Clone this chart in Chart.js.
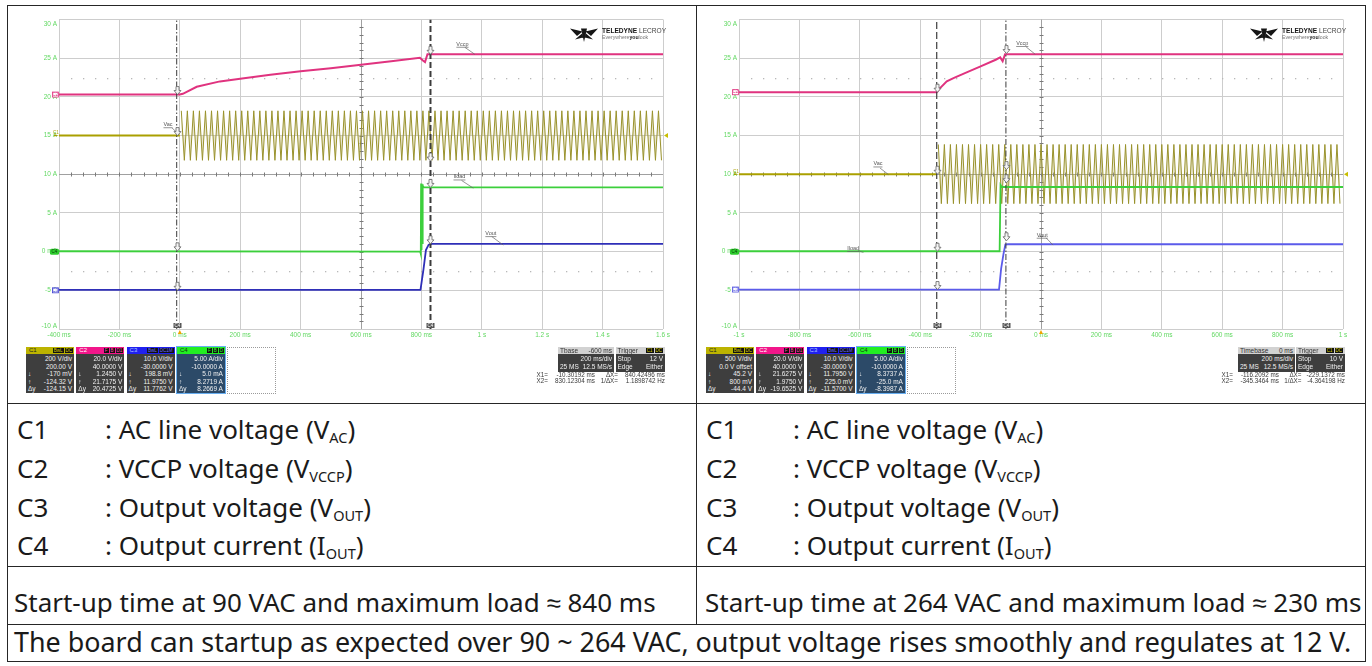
<!DOCTYPE html>
<html><head><meta charset="utf-8"><title>Start-up waveforms</title>
<script src="https://cdn.jsdelivr.net/npm/chart.js@4.4.1/dist/chart.umd.min.js"></script>
<style>
html,body{margin:0;padding:0;background:#fff;}
#page{position:relative;width:1372px;height:666px;overflow:hidden;background:#fff;}
.hl{position:absolute;height:1px;background:#262626;}
.vl{position:absolute;width:1px;background:#262626;}
.txt{position:absolute;font-family:'Noto Sans',sans-serif;font-size:26px;line-height:26px;color:#1a1a1a;white-space:nowrap;}
.txt .sb{font-size:14.5px;position:relative;top:4px;}
canvas.scope{position:absolute;}
.ui{position:absolute;font-family:'Liberation Sans',Arial,sans-serif;font-size:6.5px;white-space:nowrap;}
.chhead{position:absolute;left:0;top:0;right:0;height:7px;line-height:7px;padding-left:3px;font-size:6px;}
.tags{position:absolute;right:1px;top:1px;height:5px;display:flex;gap:1px;}
.tag{background:#111;padding:0 1px;font-size:4.5px;line-height:5px;}
.chbody{position:absolute;left:0;right:0;top:7px;bottom:0;padding-top:1px;}
.ln{height:7.5px;line-height:7.5px;position:relative;text-align:right;padding-right:2px;color:#f0f0f0;}
.sym{position:absolute;left:2px;top:0;}
.tbhead{position:absolute;left:0;right:0;top:0;height:7px;line-height:7px;background:#d2d2d2;color:#333;}
.tbbody{position:absolute;left:0;right:0;top:7px;bottom:0;background:#3e3e3e;color:#f0f0f0;}
.tbl{position:absolute;left:2px;}
.tbr{position:absolute;right:2px;}
</style></head>
<body><div id="page">
<canvas id="scopeL" class="scope" width="687" height="396" style="left:8px;top:6px;width:687px;height:396px"></canvas>
<canvas id="scopeR" class="scope" width="667" height="396" style="left:697px;top:6px;width:667px;height:396px"></canvas>
</div>
<script>
// ================= DATA =================
const xTickLabelsLeft  = ['-400 ms','-200 ms','0 ms','200 ms','400 ms','600 ms','800 ms','1 s','1.2 s','1.4 s','1.6 s'];
const xTickLabelsRight = ['-1 s','-800 ms','-600 ms','-400 ms','-200 ms','0 ms','200 ms','400 ms','600 ms','800 ms','1 s'];
const yTickLabels = ['-10 A','-5 A','0 mA','5 A','10 A','15 A','20 A','25 A','30 A'];

// ---- left scope (90 VAC), time in ms, values in screen units (5 A/div axis) ----
const leftVccpT = [-400, -200, 0, 10, 56, 133, 200, 300, 400, 500, 600, 700, 795, 805, 812, 820, 1600];
const leftVccpV = [20.3, 20.3, 20.3, 20.4, 21.3, 22.0, 22.35, 22.85, 23.3, 23.7, 24.15, 24.6, 25.05, 24.7, 24.5, 25.5, 25.5];
const leftVacFlatT = [-400, 0];
const leftVacFlatV = [15, 15];
const leftVacStartT = 5;
const leftVacHalfPeriod = 10;
const leftVacPeaks = [
18.2,11.8,18.2,11.8,18.2,11.8,18.2,11.8,18.2,11.8,18.2,11.8,18.2,11.8,18.2,11.8,18.2,11.8,18.2,11.8,
18.2,11.8,18.2,11.8,18.2,11.8,18.2,11.8,18.2,11.8,18.2,11.8,18.2,11.8,18.2,11.8,18.2,11.8,18.2,11.8,
18.2,11.8,18.2,11.8,18.2,11.8,18.2,11.8,18.2,11.8,18.2,11.8,18.2,11.8,18.2,11.8,18.2,11.8,18.2,11.8,
18.2,11.8,18.2,11.8,18.2,11.8,18.2,11.8,18.2,11.8,18.2,11.8,18.2,11.8,18.2,11.8,18.2,11.8,18.2,11.8,
18.2,11.8,18.2,11.8,18.2,11.8,18.2,11.8,18.2,11.8,18.2,11.8,18.2,11.8,18.2,11.8,18.2,11.8,18.2,11.8,
18.2,11.8,18.2,11.8,18.2,11.8,18.2,11.8,18.2,11.8,18.2,11.8,18.2,11.8,18.2,11.8,18.2,11.8,18.2,11.8,
18.2,11.8,18.2,11.8,18.2,11.8,18.2,11.8,18.2,11.8,18.2,11.8,18.2,11.8,18.2,11.8,18.2,11.8,18.2,11.8,
18.2,11.8,18.2,11.8,18.2,11.8,18.2,11.8,18.2,11.8,18.2,11.8,18.2,11.8,18.2,11.8,18.2,11.8,18.2,11.8
];
const leftVacCenter = 15;
const leftIloadT = [-400, 796, 798, 799, 800.5, 802, 803.5, 805, 808, 1600];
const leftIloadV = [0.05, 0.0, -0.3, 8.8, 0.2, 8.7, 1.0, 8.5, 8.3, 8.3];
const leftVoutT = [-400, 797, 807, 815, 824, 835, 1600];
const leftVoutV = [-4.95, -4.95, -2.25, 0.2, 0.9, 1.0, 1.0];
const leftCursors = [-10.3, 830.1];

// ---- right scope (264 VAC) ----
const rightVccpT = [-1000, -345, -335, -312, -288, -250, -200, -150, -135, -127, -119, 1000];
const rightVccpV = [20.6, 20.6, 21.1, 22.0, 22.45, 23.1, 23.95, 24.8, 25.1, 24.6, 25.5, 25.5];
const rightVacFlatT = [-1000, -345];
const rightVacFlatV = [10, 10];
const rightVacStartT = -340;
const rightVacHalfPeriod = 10;
const rightVacPeaks = [
13.85,6.2,13.85,6.2,13.85,6.2,13.85,6.2,13.85,6.2,13.85,6.2,13.85,6.2,13.85,6.2,13.85,6.2,13.85,6.2,
13.85,6.2,13.85,6.2,13.85,6.2,13.85,6.2,13.85,6.2,13.85,6.2,13.85,6.2,13.85,6.2,13.85,6.2,13.85,6.2,
13.85,6.2,13.85,6.2,13.85,6.2,13.85,6.2,13.85,6.2,13.85,6.2,13.85,6.2,13.85,6.2,13.85,6.2,13.85,6.2,
13.85,6.2,13.85,6.2,13.85,6.2,13.85,6.2,13.85,6.2,13.85,6.2,13.85,6.2,13.85,6.2,13.85,6.2,13.85,6.2,
13.85,6.2,13.85,6.2,13.85,6.2,13.85,6.2,13.85,6.2,13.85,6.2,13.85,6.2,13.85,6.2,13.85,6.2,13.85,6.2,
13.85,6.2,13.85,6.2,13.85,6.2,13.85,6.2,13.85,6.2,13.85,6.2,13.85,6.2,13.85,6.2,13.85,6.2,13.85,6.2,
13.85,6.2,13.85,6.2,13.85,6.2,13.85,6.2,13.85,6.2,13.85,6.2,13.85,6.2
];
const rightVacCenter = 10;
const rightIloadT = [-1000, -137, -134, -130, 1000];
const rightIloadV = [0.05, 0.05, 8.6, 8.35, 8.35];
const rightVoutT = [-1000, -139, -132, -124, -118, -110, 1000];
const rightVoutV = [-4.9, -4.9, -2.2, -0.25, 0.9, 0.95, 0.95];
const rightCursors = [-116.2, -345.3];

// ---- info panel texts ----
const leftChannelLines = [
 ['200 V/div','200.00 V','-170 mV','-124.32 V','-124.15 V'],
 ['20.0 V/div','40.0000 V','1.2450 V','21.7175 V','20.4725 V'],
 ['10.0 V/div','-30.0000 V','198.8 mV','11.9750 V','11.7762 V'],
 ['5.00 A/div','-10.0000 A','5.0 mA','8.2719 A','8.2669 A']
];
const rightChannelLines = [
 ['500 V/div','0.0 V offset','45.2 V','800 mV','-44.4 V'],
 ['20.0 V/div','40.0000 V','21.6275 V','1.9750 V','-19.6525 V'],
 ['10.0 V/div','-30.0000 V','11.7950 V','225.0 mV','-11.5700 V'],
 ['5.00 A/div','-10.0000 A','8.3737 A','-25.0 mA','-8.3987 A']
];
const channelNames = ['C1','C2','C3','C4'];
const channelTags = [['BwL','DC'],['F','B','D1'],['BwL','DC1M'],['F','B','D']];
const leftTimebase = ['Tbase','-600 ms','200 ms/div','25 MS','12.5 MS/s'];
const rightTimebase = ['Timebase','0 ms','200 ms/div','25 MS','12.5 MS/s'];
const leftTrigger = ['Stop','12 V','Edge','Either'];
const rightTrigger = ['Stop','10 V','Edge','Either'];
const leftReadout = [['X1=','-10.30192 ms','ΔX=','840.42496 ms'],['X2=','830.12304 ms','1/ΔX=','1.1898742 Hz']];
const rightReadout = [['X1=','-116.2092 ms','ΔX=','-229.1372 ms'],['X2=','-345.3464 ms','1/ΔX=','-4.364198 Hz']];

// ---- table texts ----
const noteLabels = ['C1','C2','C3','C4'];
const noteTexts = ['AC line voltage','VCCP voltage','Output voltage','Output current'];
const noteSymbols = ['V','V','V','I'];
const noteSubs = ['AC','VCCP','OUT','OUT'];
const startupLeft = 'Start-up time at 90 VAC and maximum load ≈ 840 ms';
const startupRight = 'Start-up time at 264 VAC and maximum load ≈ 230 ms';
const conclusion = 'The board can startup as expected over 90 ~ 264 VAC, output voltage rises smoothly and regulates at 12 V.';

// ================= LAYOUT / STYLE =================
const page = document.getElementById('page');
function add(cls, css, html){ const d=document.createElement('div'); d.className=cls; d.style.cssText=css; if(html!=null) d.innerHTML=html; page.appendChild(d); return d; }

// table lines
[[7,5,1359],[7,403,1359],[7,566,1359],[7,624,1359],[7,661,1359]].forEach(([x,y,w])=>add('hl',`left:${x}px;top:${y}px;width:${w}px;`));
[[7,5,657],[1365,5,657],[696,5,619]].forEach(([x,y,h])=>add('vl',`left:${x}px;top:${y}px;height:${h}px;`));

const rowCenters = [430, 469, 508, 546];
[[17,105],[706,793]].forEach(([xl,xc])=>{
  noteLabels.forEach((lab,i)=>{
    const top = rowCenters[i]-14;
    add('txt',`left:${xl}px;top:${top}px;`, lab);
    add('txt',`left:${xc}px;top:${top}px;`, `: ${noteTexts[i]} (${noteSymbols[i]}<span class="sb">${noteSubs[i]}</span>)`);
  });
});
add('txt','left:14px;top:589px;', startupLeft);
add('txt','left:705px;top:589px;', startupRight);
add('txt','left:14px;top:629px;font-size:26.9px;', conclusion);

// scope info panels
const headColors = ['#bcb300','#f2168a','#2020f0','#22ee22'];
const headTextColors = ['#222','#fff','#a8c8ff','#143014'];
const tagTextColors = ['#d8d000','#ff4aa8','#6a6aff','#30ff30'];
const syms = ['','','↓','↑','Δy'];
function channelPanels(x0, lines){
  lines.forEach((ls,i)=>{
    const x = x0 + i*50.3;
    const isC4 = i===3;
    const body = isC4 ? 'background:#2c4a68;' : 'background:#3e3e3e;';
    const bord = isC4 ? 'outline:1px solid #68aef0;' : '';
    let tags = channelTags[i].map(t=>`<span class="tag" style="color:${tagTextColors[i]}">${t}</span>`).join('');
    let html = `<div class="chhead" style="background:${headColors[i]};color:${headTextColors[i]}">${channelNames[i]}<span class="tags">${tags}</span></div>`;
    html += `<div class="chbody" style="${body}">` + ls.map((l,j)=>`<div class="ln"><span class="sym">${syms[j]}</span>${l}</div>`).join('') + '</div>';
    add('ui', `left:${x}px;top:347px;width:48px;height:46px;${bord}`, html);
  });
  add('ui', `left:${x0+4*50.3}px;top:347px;width:47px;height:45px;border:1px dotted #9a9a9a;`, '');
}
channelPanels(26, leftChannelLines);
channelPanels(706, rightChannelLines);

function timePanels(xtb, wtb, xtr, wtr, tb, tr){
  add('ui', `left:${xtb}px;top:347px;width:${wtb}px;height:25px;`,
    `<div class="tbhead"><span class="tbl">${tb[0]}</span><span class="tbr">${tb[1]}</span></div>`+
    `<div class="tbbody"><span class="tbr" style="top:1px">${tb[2]}</span><span class="tbl" style="top:9px">${tb[3]}</span><span class="tbr" style="top:9px">${tb[4]}</span></div>`);
  add('ui', `left:${xtr}px;top:347px;width:${wtr}px;height:25px;`,
    `<div class="tbhead"><span class="tbl">Trigger</span><span class="tbr" style="top:1px;height:5px;display:flex;gap:1px"><span class="tag" style="color:#d8d000">C1</span><span class="tag" style="color:#d8d000">DC</span></span></div>`+
    `<div class="tbbody"><span class="tbl" style="top:1px">${tr[0]}</span><span class="tbr" style="top:1px">${tr[1]}</span><span class="tbl" style="top:9px">${tr[2]}</span><span class="tbr" style="top:9px">${tr[3]}</span></div>`);
}
timePanels(558, 56, 615.5, 49.5, leftTimebase, leftTrigger);
timePanels(1238, 57, 1296, 49, rightTimebase, rightTrigger);

function readouts(cols, rows){
  rows.forEach((r,i)=>{
    r.forEach((t,j)=>{
      add('ui', `left:${cols[j]-70}px;top:${372+i*5.8}px;width:70px;text-align:right;color:#3a3a3a;line-height:6px;font-size:6.3px;`, t);
    });
  });
}
readouts([548, 595, 618, 665], leftReadout);
readouts([1233, 1279, 1301.5, 1345], rightReadout);

// ================= CHARTS =================
const scopeCfg = {
  scopeL: {
    xLabels: xTickLabelsLeft,
    centerT: 600, dotRows: [22.5, -2.5], trigT: 0, trigV: 15,
    chMarks: [{l:'C2',v:20.3,c:'#e0337f',s:'box'},{l:'C1',v:15,c:'#a89e00',s:'txt'},{l:'C4',v:0,c:'#2ecc2e',s:'fill'},{l:'C3',v:-5,c:'#3a3ad0',s:'box'}],
    notes: [
      {t:'Vccp',x:936,y:26.8,x1:944,y1:26.4,x2:977,y2:25.5},
      {t:'Vac',x:-39,y:16.4,x1:-26,y1:16.0,x2:-10,y2:15.4},
      {t:'Iload',x:926,y:9.65,x1:933,y1:9.2,x2:972,y2:8.2},
      {t:'Vout',x:1030,y:2.33,x1:1033,y1:1.95,x2:1071,y2:0.85}
    ],
    cursorMarks: [[20.3,15,0.1,-5],[25.5,11.7,8.3,1.0]]
  },
  scopeR: {
    xLabels: xTickLabelsRight,
    centerT: 0, dotRows: [22.5, -2.5], trigT: 0, trigV: 10,
    chMarks: [{l:'C2',v:20.6,c:'#e0337f',s:'box'},{l:'C1',v:10,c:'#a89e00',s:'txt'},{l:'C4',v:0,c:'#2ecc2e',s:'fill'},{l:'C3',v:-4.9,c:'#5050e0',s:'box'}],
    notes: [
      {t:'Vccp',x:-62,y:26.9,x1:-49,y1:26.45,x2:-19,y2:25.5},
      {t:'Vac',x:-540,y:11.33,x1:-533,y1:10.8,x2:-505,y2:9.95},
      {t:'Iload',x:-622,y:0.4,x1:-606,y1:0.13,x2:-588,y2:-0.1},
      {t:'Vout',x:4,y:2.12,x1:17,y1:1.77,x2:40,y2:0.85}
    ],
    cursorMarks: [[25.6,10.6,8.9,1.4],[20.6,10,0.05,-4.9]]
  }
};

function drawLogo(ctx, right, top){
  const tx = right - 61, ty = top + 13.5;
  const ix = right - 79, iy = top + 15;
  ctx.fillStyle = '#151515';
  ctx.beginPath();
  ctx.moveTo(ix-1.5, iy-3); ctx.lineTo(ix-14, iy-6); ctx.lineTo(ix-7, iy+1.5); ctx.closePath();
  ctx.moveTo(ix+1.5, iy-3); ctx.lineTo(ix+14, iy-6); ctx.lineTo(ix+7, iy+1.5); ctx.closePath();
  ctx.moveTo(ix-3, iy-6); ctx.lineTo(ix+3, iy-6); ctx.lineTo(ix, iy+7.5); ctx.closePath();
  ctx.moveTo(ix-2, iy-1); ctx.lineTo(ix-9, iy+5); ctx.lineTo(ix-1, iy+3); ctx.closePath();
  ctx.moveTo(ix+2, iy-1); ctx.lineTo(ix+9, iy+5); ctx.lineTo(ix+1, iy+3); ctx.closePath();
  ctx.fill();
  ctx.textAlign = 'left'; ctx.textBaseline = 'alphabetic';
  ctx.font = 'bold 6.6px "Liberation Sans"';
  ctx.fillText('TELEDYNE', tx, ty);
  const w = ctx.measureText('TELEDYNE ').width;
  ctx.font = '6.6px "Liberation Sans"'; ctx.fillStyle = '#444';
  ctx.fillText('LECROY', tx + w, ty);
  let xx = tx; const y2 = ty + 5.5;
  ctx.font = '5.2px "Liberation Sans"'; ctx.fillStyle = '#777';
  ctx.fillText('Everywhere', xx, y2); xx += ctx.measureText('Everywhere').width;
  ctx.font = 'bold 5.2px "Liberation Sans"'; ctx.fillStyle = '#222';
  ctx.fillText('you', xx, y2); xx += ctx.measureText('you').width;
  ctx.font = '5.2px "Liberation Sans"'; ctx.fillStyle = '#777';
  ctx.fillText('look', xx, y2);
}

const scopeExtras = {
  id: 'scopeExtras',
  beforeDatasetsDraw(chart){
    const o = scopeCfg[chart.canvas.id];
    const {ctx, chartArea:a, scales:{x,y}} = chart;
    ctx.save();
    const cx = Math.round(x.getPixelForValue(o.centerT)) + 0.5;
    const cy = Math.round(y.getPixelForValue(10)) + 0.5;
    ctx.strokeStyle = '#a0a0a0'; ctx.lineWidth = 1;
    ctx.beginPath(); ctx.moveTo(a.left, cy); ctx.lineTo(a.right, cy); ctx.moveTo(cx, a.top); ctx.lineTo(cx, a.bottom); ctx.stroke();
    ctx.strokeStyle = '#7a7a7a';
    ctx.beginPath();
    for (let i=1;i<50;i++){ const px = Math.round(a.left+(a.right-a.left)*i/50)+0.5; ctx.moveTo(px, cy-2); ctx.lineTo(px, cy+2); }
    for (let j=1;j<40;j++){ const py = Math.round(a.top+(a.bottom-a.top)*j/40)+0.5; ctx.moveTo(cx-2, py); ctx.lineTo(cx+2, py); }
    ctx.stroke();
    ctx.fillStyle = '#b8b8b8';
    o.dotRows.forEach(v=>{ const py = Math.round(y.getPixelForValue(v)); for (let i=1;i<50;i++){ const px = Math.round(a.left+(a.right-a.left)*i/50); ctx.fillRect(px, py, 1.3, 1.3);} });
    // axis tick labels (from the library's ticks)
    ctx.fillStyle = '#62d862';
    ctx.font = '6.5px "Liberation Sans"';
    ctx.textAlign = 'center'; ctx.textBaseline = 'middle';
    x.ticks.forEach((tk,i)=>{ ctx.fillText(o.xLabels[i], x.getPixelForValue(tk.value), a.bottom + 6.5); });
    ctx.textAlign = 'right';
    const n = y.ticks.length;
    y.ticks.forEach((tk,i)=>{
      let py = y.getPixelForValue(tk.value);
      if (i === n-1) py += 4.5; else if (i === 0) py -= 2.5;
      ctx.fillText(yTickLabels[i], a.left - 2, py);
    });
    ctx.restore();
  },
  afterDatasetsDraw(chart){
    const o = scopeCfg[chart.canvas.id];
    const {ctx, chartArea:a, scales:{x,y}} = chart;
    ctx.save();
    // trace labels
    ctx.font = '5.5px "Liberation Sans"'; ctx.textAlign = 'center'; ctx.textBaseline = 'middle';
    o.notes.forEach(n=>{
      const px = x.getPixelForValue(n.x), py = y.getPixelForValue(n.y);
      ctx.fillStyle = '#555'; ctx.fillText(n.t, px, py);
      const w = ctx.measureText(n.t).width;
      ctx.strokeStyle = '#666'; ctx.lineWidth = 0.7;
      ctx.beginPath(); ctx.moveTo(px-w/2, py+3); ctx.lineTo(px+w/2, py+3);
      ctx.moveTo(x.getPixelForValue(n.x1), y.getPixelForValue(n.y1)); ctx.lineTo(x.getPixelForValue(n.x2), y.getPixelForValue(n.y2));
      ctx.stroke();
    });
    // cursor markers
    const curs = chart.data.datasets.filter(d=>d.isCursor).map(d=>d.data[0].x);
    curs.forEach((ct,ci)=>{
      const px = Math.round(x.getPixelForValue(ct))+0.5;
      o.cursorMarks[ci].forEach(v=>{
        const py = y.getPixelForValue(v);
        ctx.beginPath();
        ctx.moveTo(px-1.5, py-8); ctx.lineTo(px+1.5, py-8); ctx.lineTo(px+1.5, py-4); ctx.lineTo(px+3.5, py-4);
        ctx.lineTo(px, py); ctx.lineTo(px-3.5, py-4); ctx.lineTo(px-1.5, py-4); ctx.closePath();
        ctx.fillStyle = '#f4f4f4'; ctx.fill(); ctx.strokeStyle = '#666'; ctx.lineWidth = 0.8; ctx.stroke();
      });
      ctx.fillStyle = '#555'; ctx.fillRect(px-4, a.bottom-6, 8, 5);
      ctx.fillStyle = '#fff'; ctx.font = '4.5px "Liberation Sans"'; ctx.textAlign = 'center'; ctx.textBaseline = 'middle';
      ctx.fillText('C4', px, a.bottom-3.5);
    });
    // channel markers on left edge
    o.chMarks.forEach(m=>{
      const py = y.getPixelForValue(m.v);
      ctx.font = '4.5px "Liberation Sans"'; ctx.textAlign = 'center'; ctx.textBaseline = 'middle';
      if (m.s === 'fill'){
        ctx.fillStyle = m.c; ctx.beginPath(); ctx.roundRect(a.left-9, py-3, 9, 6, 1.5); ctx.fill();
        ctx.fillStyle = '#0a3a0a'; ctx.fillText(m.l, a.left-4.5, py);
      } else if (m.s === 'box'){
        ctx.fillStyle = '#fff'; ctx.fillRect(a.left-6.5, py-2.5, 6, 5);
        ctx.strokeStyle = m.c; ctx.lineWidth = 0.8; ctx.strokeRect(a.left-6.5, py-2.5, 6, 5);
        ctx.fillStyle = m.c; ctx.fillText(m.l, a.left-3.5, py);
      } else {
        ctx.fillStyle = m.c; ctx.fillText(m.l, a.left-3, py-2.5);
        ctx.beginPath(); ctx.moveTo(a.left-5, py-1); ctx.lineTo(a.left, py); ctx.lineTo(a.left-5, py+1); ctx.fill();
      }
    });
    // trigger markers
    const ty = y.getPixelForValue(o.trigV);
    ctx.fillStyle = '#c8be00';
    ctx.beginPath(); ctx.moveTo(a.right+1, ty); ctx.lineTo(a.right+5, ty-2.5); ctx.lineTo(a.right+5, ty+2.5); ctx.closePath(); ctx.fill();
    const tx = x.getPixelForValue(o.trigT);
    ctx.fillStyle = '#f0a400';
    ctx.beginPath(); ctx.moveTo(tx, a.bottom+1); ctx.lineTo(tx-2, a.bottom+5); ctx.lineTo(tx+2, a.bottom+5); ctx.closePath(); ctx.fill();
    drawLogo(ctx, a.right, a.top);
    ctx.restore();
  }
};
Chart.register(scopeExtras);

function pts(T, V){ return T.map((t,i)=>({x:t, y:V[i]})); }
function acPts(startT, half, peaks){ return peaks.map((v,i)=>({x: startT + i*half, y: v})); }
function cursorSet(t, dash, width){
  return {isCursor:true, data:[{x:t,y:-10},{x:t,y:30}], borderColor:'#3c3c3c', borderWidth:width, borderDash:dash, pointRadius:0};
}
function trace(data, color, width){
  return {data, borderColor:color, borderWidth:width, pointRadius:0, tension:0, fill:false};
}
function acTrace(data, center){
  return {data, borderColor:'#99922c', borderWidth:1, pointRadius:0, tension:0,
          fill:{value:center}, backgroundColor:'rgba(196,190,130,0.38)'};
}

function makeScope(id, xmin, xmax, pad, sets){
  return new Chart(document.getElementById(id), {
    type: 'line',
    data: {datasets: sets},
    options: {
      responsive: false, animation: false, devicePixelRatio: 1,
      layout: {padding: pad},
      plugins: {legend:{display:false}, tooltip:{enabled:false}},
      events: [],
      scales: {
        x: {type:'linear', min:xmin, max:xmax, afterFit(s){ s.height = 0; },
            grid:{color:'#cdcdcd', lineWidth:1, drawTicks:false}, border:{display:false},
            ticks:{stepSize:200, autoSkip:false, display:false}},
        y: {type:'linear', min:-10, max:30, afterFit(s){ s.width = 0; },
            grid:{color:'#cdcdcd', lineWidth:1, drawTicks:false}, border:{display:false},
            ticks:{stepSize:5, autoSkip:false, display:false}}
      }
    }
  });
}

makeScope('scopeL', -400, 1600, {left:51, right:32, top:13.5, bottom:73}, [
  cursorSet(leftCursors[0], [6,2,1.5,2], 1),
  cursorSet(leftCursors[1], [6,3], 2),
  trace(pts(leftVccpT, leftVccpV), '#e0337f', 2),
  trace(pts(leftIloadT, leftIloadV), '#3ccf3c', 1.8),
  trace(pts(leftVoutT, leftVoutV), '#2f2fb8', 1.8),
  trace(pts(leftVacFlatT, leftVacFlatV), '#aaa000', 2),
  acTrace(acPts(leftVacStartT, leftVacHalfPeriod, leftVacPeaks), leftVacCenter)
]);
makeScope('scopeR', -1000, 1000, {left:42, right:21, top:13.5, bottom:73}, [
  cursorSet(rightCursors[0], [6,2,1.5,2], 1),
  cursorSet(rightCursors[1], [7,3], 1.2),
  trace(pts(rightVccpT, rightVccpV), '#e0337f', 2),
  trace(pts(rightIloadT, rightIloadV), '#3ccf3c', 1.8),
  trace(pts(rightVoutT, rightVoutV), '#5b5bea', 1.8),
  trace(pts(rightVacFlatT, rightVacFlatV), '#aaa000', 2),
  acTrace(acPts(rightVacStartT, rightVacHalfPeriod, rightVacPeaks), rightVacCenter)
]);
</script>
</body></html>
